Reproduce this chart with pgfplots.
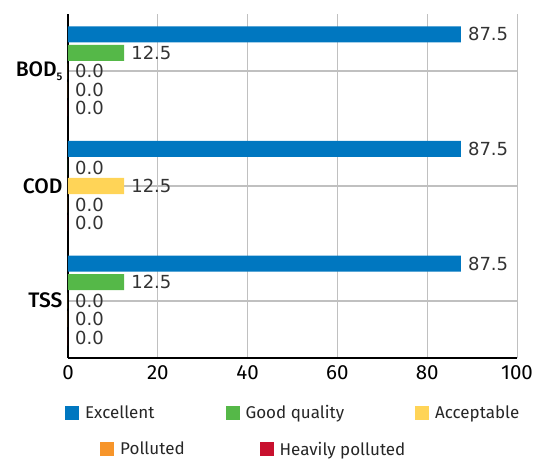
\documentclass[border=0pt]{standalone}
\usepackage{pgfplots}
\pgfplotsset{compat=1.18}
\usepackage{fontspec}
\setmainfont{Fira Sans}
\newfontfamily\catfont{Fira Sans}[UprightFont=* Medium]
\newfontfamily\valfont{DejaVu Sans}
\definecolor{cExc}{RGB}{0,119,192}
\definecolor{cGood}{RGB}{85,184,72}
\definecolor{cAcc}{RGB}{255,212,87}
\definecolor{cPol}{RGB}{247,149,42}
\definecolor{cHeavy}{RGB}{200,16,46}
\definecolor{gridc}{RGB}{192,192,192}
\definecolor{valc}{RGB}{51,51,51}
\pgfplotsset{sq/.style={legend image code/.code={\fill[##1] (0pt,-7pt) rectangle (14pt,7pt);}}}
\begin{document}
\begin{tikzpicture}
\path[use as bounding box] (-68pt,-102pt) rectangle (475pt,358pt);
\begin{axis}[
  at={(0,0)}, anchor=south west,
  scale only axis, width=449pt, height=344pt,
  xbar, bar width=16pt,
  xmin=0, xmax=100, ymin=-0.5, ymax=2.5,
  xtick={0,20,40,60,80,100}, ytick={0,1,2},
  yticklabels={TSS,COD,BOD\raisebox{-4pt}{\fontsize{11}{12}\selectfont 5}},
  axis x line=bottom, axis y line=left,
  axis line style={-, line width=2pt, black},
  major tick length=0pt,
  xmajorgrids, ymajorgrids,
  x grid style={gridc, line width=0.9pt},
  y grid style={gridc, line width=2.2pt},
  /pgf/number format/assume math mode=true,
  xticklabel style={font=\fontsize{20.5}{22}\selectfont, yshift=-4pt},
  yticklabel style={font=\catfont\fontsize{21}{23}\selectfont, xshift=-2pt},
  nodes near coords={\pgfmathprintnumber[fixed,fixed zerofill,precision=1]{\pgfplotspointmeta}},
  every node near coord/.append style={font=\valfont\fontsize{18}{19}\selectfont, text=valc, anchor=west, inner sep=0pt, xshift=7pt},
  legend columns=3,
  legend cell align=left,
  legend style={draw=none, fill=none, inner sep=0pt, at={(-0.007,-0.16)}, anchor=west,
    font=\fontsize{17}{19}\selectfont, text=black!85,
    nodes={inner sep=0pt},
    /tikz/every odd column/.append style={column sep=6pt},
    /tikz/every even column/.append style={column sep=71pt}},
]
\addplot[fill=cExc, draw=none, bar shift=37pt, sq] coordinates {(87.5,2) (87.5,1) (87.5,0)};
\addlegendentry{Excellent}
\addplot[fill=cGood, draw=none, bar shift=18.5pt, sq] coordinates {(12.5,2) (0,1) (12.5,0)};
\addlegendentry{Good quality}
\addplot[fill=cAcc, draw=none, bar shift=0pt, sq] coordinates {(0,2) (12.5,1) (0,0)};
\addlegendentry{Acceptable}
\addplot[fill=cPol, draw=none, bar shift=-18.5pt, forget plot] coordinates {(0,2) (0,1) (0,0)};
\addplot[fill=cHeavy, draw=none, bar shift=-37pt, forget plot] coordinates {(0,2) (0,1) (0,0)};
\end{axis}
\begin{axis}[
  at={(0,0)}, anchor=south west,
  scale only axis, width=449pt, height=344pt,
  hide axis,
  xmin=0, xmax=100, ymin=-0.5, ymax=2.5,
  legend columns=2,
  legend cell align=left,
  legend style={draw=none, fill=none, inner sep=0pt, at={(0.0713,-0.265)}, anchor=west,
    font=\fontsize{17}{19}\selectfont, text=black!85,
    nodes={inner sep=0pt},
    /tikz/every odd column/.append style={column sep=6pt},
    /tikz/every even column/.append style={column sep=75pt}},
]
\addlegendimage{fill=cPol, draw=none, sq}
\addlegendentry{Polluted}
\addlegendimage{fill=cHeavy, draw=none, sq}
\addlegendentry{Heavily polluted}
\end{axis}
\end{tikzpicture}
\end{document}
